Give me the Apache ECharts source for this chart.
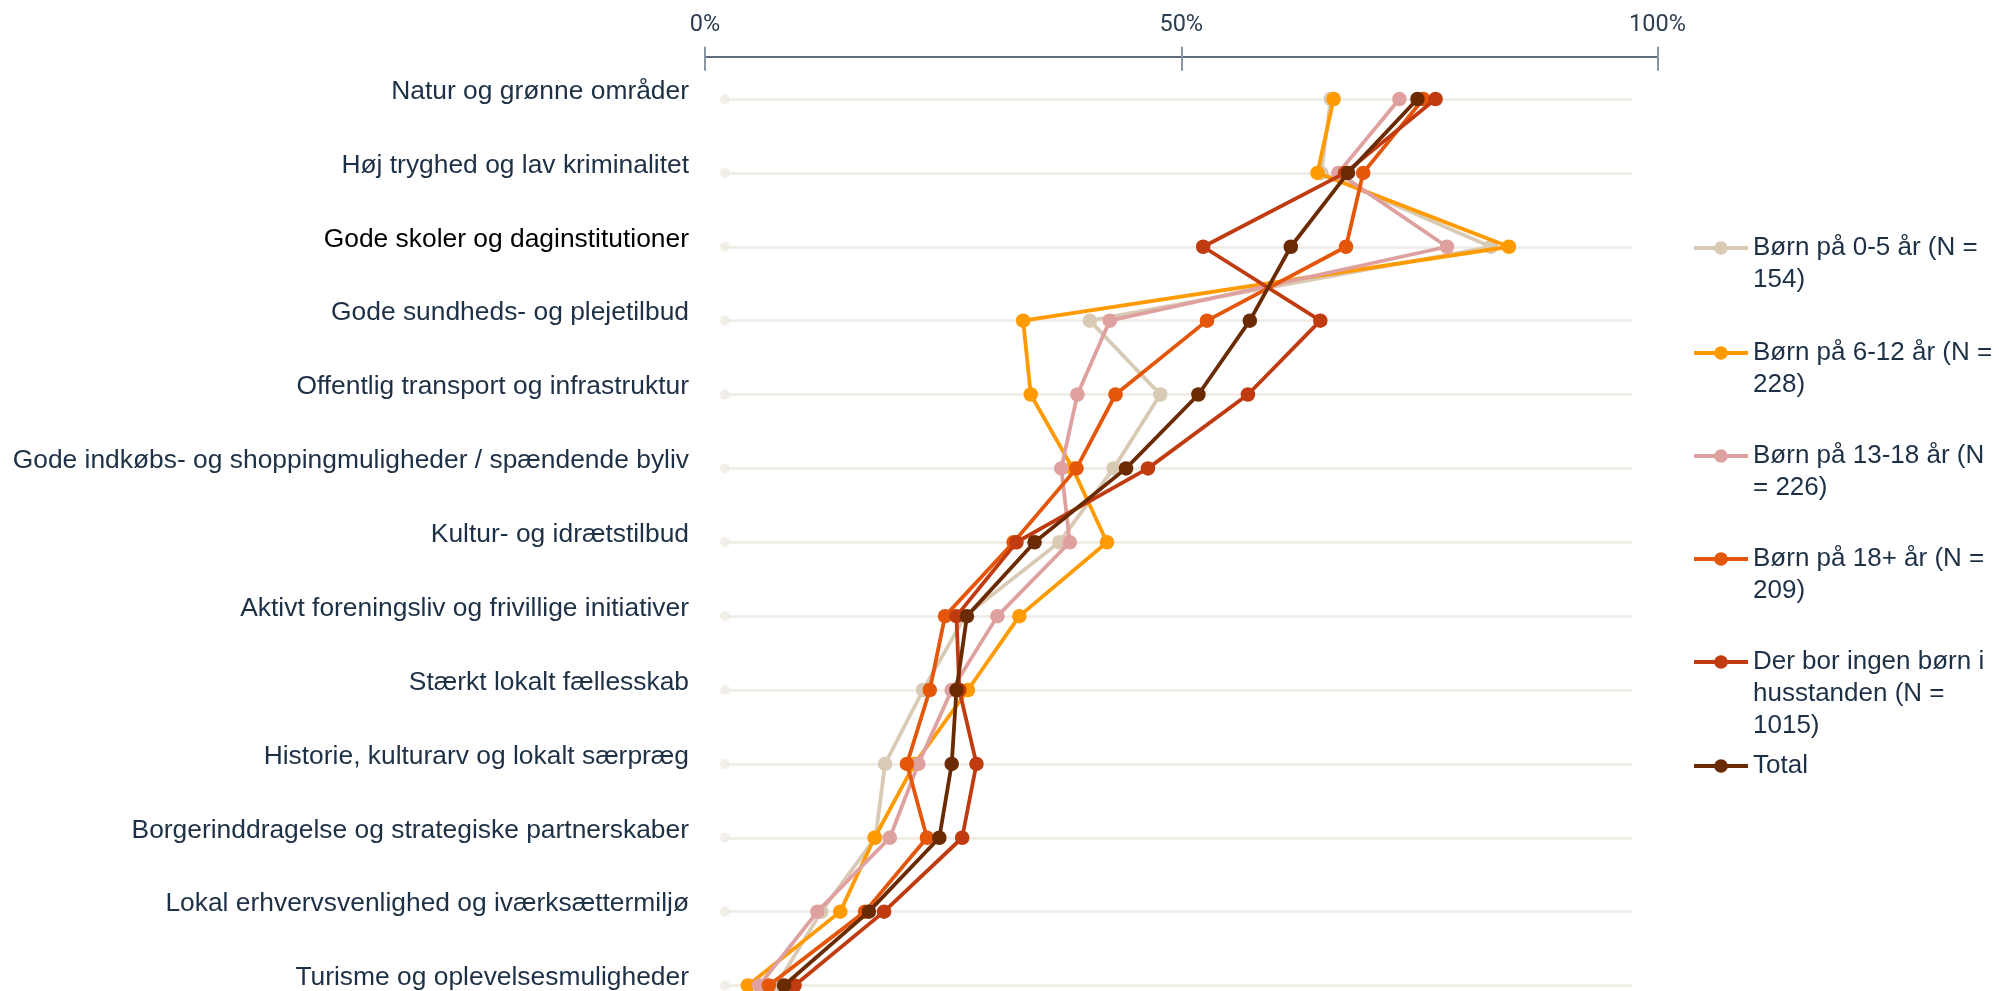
<!DOCTYPE html>
<html><head><meta charset="utf-8">
<script src="https://cdn.jsdelivr.net/npm/echarts@6/dist/echarts.min.js"></script>
<style>html,body{margin:0;padding:0;background:#fff}#c{width:1999px;height:991px}</style>
</head><body><div id="c"></div>
<script>
// ---- data ----
const categories = [
  'Natur og grønne områder',
  'Høj tryghed og lav kriminalitet',
  'Gode skoler og daginstitutioner',
  'Gode sundheds- og plejetilbud',
  'Offentlig transport og infrastruktur',
  'Gode indkøbs- og shoppingmuligheder / spændende byliv',
  'Kultur- og idrætstilbud',
  'Aktivt foreningsliv og frivillige initiativer',
  'Stærkt lokalt fællesskab',
  'Historie, kulturarv og lokalt særpræg',
  'Borgerinddragelse og strategiske partnerskaber',
  'Lokal erhvervsvenlighed og iværksættermiljø',
  'Turisme og oplevelsesmuligheder'
];
const seriesNames = [
  'Børn på 0-5 år (N = 154)',
  'Børn på 6-12 år (N = 228)',
  'Børn på 13-18 år (N = 226)',
  'Børn på 18+ år (N = 209)',
  'Der bor ingen børn i husstanden (N = 1015)',
  'Total'
];
const legendLabels = [
  'Børn på 0-5 år (N =\n154)',
  'Børn på 6-12 år (N =\n228)',
  'Børn på 13-18 år (N\n= 226)',
  'Børn på 18+ år (N =\n209)',
  'Der bor ingen børn i\nhusstanden (N =\n1015)',
  'Total'
];
const born0to5   = [65.7, 64.7, 82.5, 40.4, 47.8, 42.9, 37.2, 27.3, 22.9, 18.9, 17.9, 12.2, 7.5];
const born6to12  = [66.0, 64.3, 84.4, 33.4, 34.2, 38.6, 42.2, 33.0, 27.6, 22.0, 17.8, 14.2, 4.5];
const born13to18 = [72.9, 66.5, 77.9, 42.5, 39.1, 37.4, 38.3, 30.7, 25.9, 22.4, 19.4, 11.8, 5.7];
const born18plus = [75.4, 69.1, 67.3, 52.7, 43.1, 39.0, 32.4, 25.2, 23.6, 21.2, 23.3, 16.8, 6.7];
const ingenBorn  = [76.7, 67.2, 52.3, 64.6, 57.0, 46.5, 32.7, 26.4, 26.7, 28.5, 27.0, 18.8, 9.4];
const total      = [74.8, 67.5, 61.5, 57.2, 51.8, 44.2, 34.6, 27.5, 26.4, 25.9, 24.6, 17.2, 8.3];
const xTickValues = [0, 50, 100];
const bgStart = 2.1, bgEnd = 97.3;

// ---- styles ----
const colors = ['#D8CAB4', '#FF9A00', '#DFA0A0', '#E4560A', '#C13B11', '#6A2B02'];
const allValues = [born0to5, born6to12, born13to18, born18plus, ingenBorn, total];
const textColor = '#1d3045';
const font = '"Liberation Sans", Arial, sans-serif';
const legendCenters = [248, 353, 456, 559, 662, 766];
const LH = 32;

const chart = echarts.init(document.getElementById('c'), null, {renderer: 'canvas'});

const lineSeries = allValues.map((vals, i) => ({
  type: 'line',
  name: seriesNames[i],
  xAxisIndex: 0, yAxisIndex: 0,
  data: vals.map((v, j) => [v, categories[j]]),
  symbol: 'circle', symbolSize: 14.5, clip: false,
  lineStyle: {width: 3.8, color: colors[i]},
  itemStyle: {color: colors[i]},
  z: 10 + i,
  emphasis: {disabled: true},
  animation: false
}));

const bgSeries = {
  type: 'scatter', name: 'bg', xAxisIndex: 0, yAxisIndex: 0,
  data: categories.map(c => [bgStart, c]),
  symbolSize: 10, itemStyle: {color: '#EFEBE4'}, silent: true, z: 2,
  animation: false,
  markLine: {
    silent: true, z: 1, symbol: ['none', 'none'], label: {show: false},
    lineStyle: {color: '#EFEBE4', width: 2.5, type: 'solid'},
    emphasis: {disabled: true},
    animation: false,
    data: categories.map(c => [{coord: [bgStart, c]}, {coord: [bgEnd, c]}])
  }
};

// legend text: prepend blank lines so the first text line sits on the symbol
const legends = seriesNames.map((n, i) => {
  const lines = legendLabels[i].split('\n').length;
  const txt = '\n'.repeat(lines - 1) + legendLabels[i];
  return {
    data: [n], left: 1692, top: legendCenters[i] - (2 * lines - 1) * LH / 2,
    orient: 'vertical', itemWidth: 54, itemHeight: 17, padding: 0, selectedMode: false,
    lineStyle: {width: 4},
    formatter: () => txt,
    textStyle: {fontSize: 26, lineHeight: LH, color: textColor, fontFamily: font}
  };
});

const yLabelStyle = {fontSize: 26.4, fontFamily: font, verticalAlign: 'bottom', lineHeight: 15};

chart.setOption({
  animation: false,
  backgroundColor: '#fff',
  grid: {left: 705, right: 341.5, top: 99, bottom: 4, containLabel: false},
  legend: legends,
  xAxis: [{
    type: 'value', position: 'top', offset: 42.3, min: 0, max: 100, interval: 50,
    axisLine: {show: true, lineStyle: {color: '#2b3d50', width: 1.5}},
    axisTick: {show: true, inside: false, length: 10, lineStyle: {color: '#8a96a3', width: 2}},
    splitLine: {show: false},
    axisLabel: {formatter: v => xTickValues.includes(v) ? v + '%' : '', fontSize: 23.5, color: '#2b3d50',
      fontFamily: 'Roboto, sans-serif', margin: 20}
  }, {
    type: 'value', position: 'top', offset: 42.3, min: 0, max: 100, interval: 50,
    axisLine: {show: false},
    axisTick: {show: true, inside: true, length: 14, lineStyle: {color: '#8a96a3', width: 2}},
    splitLine: {show: false}, axisLabel: {show: false}
  }],
  yAxis: {
    type: 'category', inverse: true, boundaryGap: false,
    data: categories.map(c => c === 'Gode skoler og daginstitutioner'
      ? {value: c, textStyle: Object.assign({color: '#000'}, yLabelStyle)} : c),
    axisLine: {show: false}, axisTick: {show: false}, splitLine: {show: false},
    axisLabel: Object.assign({color: textColor, margin: 16}, yLabelStyle)
  },
  series: [bgSeries].concat(lineSeries)
});
</script></body></html>
